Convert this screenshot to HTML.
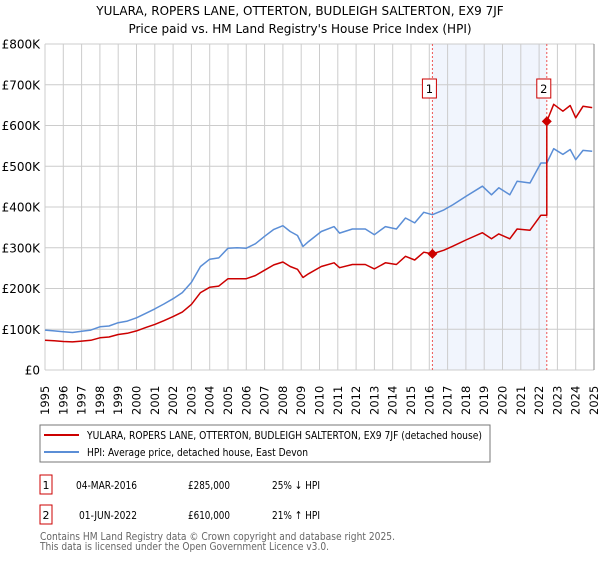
<!DOCTYPE html>
<html><head><meta charset="utf-8"><style>
body{margin:0;background:#fff;font-family:"Liberation Sans","DejaVu Sans",sans-serif;}
svg text{font-family:"DejaVu Sans","Liberation Sans",sans-serif;}
</style></head><body>
<svg width="600" height="560" viewBox="0 0 600 560">
<g id="g"></g>
</svg>
<script>
const hpiDates=[1995.0,1995.5,1996.0,1996.5,1997.0,1997.5,1998.0,1998.5,1999.0,1999.5,2000.0,2000.5,2001.0,2001.5,2002.0,2002.5,2003.0,2003.5,2004.0,2004.5,2005.0,2005.5,2006.0,2006.5,2007.0,2007.5,2008.0,2008.4,2008.8,2009.1,2009.4,2010.1,2010.8,2011.1,2011.8,2012.5,2013.0,2013.6,2014.2,2014.7,2015.2,2015.7,2016.17,2016.8,2017.3,2018.0,2018.9,2019.4,2019.8,2020.4,2020.8,2021.5,2022.1,2022.42,2022.8,2023.3,2023.7,2024.0,2024.4,2024.9];
const hpiValues=[98,96,94,92,95,98,106,108,116,120,128,139,150,162,175,190,215,254,272,275,299,300,299,310,328,345,354,340,330,303,315,340,352,336,346,346,332,352,346,373,361,387,381,393,406,426,451,430,447,430,463,459,508,508,543,529,541,516,539,537];
const redDates=[1995.0,1995.5,1996.0,1996.5,1997.0,1997.5,1998.0,1998.5,1999.0,1999.5,2000.0,2000.5,2001.0,2001.5,2002.0,2002.5,2003.0,2003.5,2004.0,2004.5,2005.0,2005.5,2006.0,2006.5,2007.0,2007.5,2008.0,2008.4,2008.8,2009.1,2009.4,2010.1,2010.8,2011.1,2011.8,2012.5,2013.0,2013.6,2014.2,2014.7,2015.2,2015.7,2016.17,2016.8,2017.3,2018.0,2018.9,2019.4,2019.8,2020.4,2020.8,2021.5,2022.1,2022.42,2022.42,2022.8,2023.3,2023.7,2024.0,2024.4,2024.9];
const redValues=[73,72,70,69,71,73,79,81,87,90,96,104,112,121,131,142,161,190,203,206,224,224,224,232,245,258,265,254,247,227,236,254,263,251,259,259,248,263,259,279,270,289,285,294,304,319,337,322,334,322,346,343,380,380,610,652,635,649,619,647,644];
const saleDates=[2016.17,2022.42];
const saleValues=[285,610];
const saleLabels=["1","2"];
const yTicks=[0,100,200,300,400,500,600,700,800];
const yTickLabels=["£0","£100K","£200K","£300K","£400K","£500K","£600K","£700K","£800K"];
const xYears=[1995,1996,1997,1998,1999,2000,2001,2002,2003,2004,2005,2006,2007,2008,2009,2010,2011,2012,2013,2014,2015,2016,2017,2018,2019,2020,2021,2022,2023,2024,2025];

const X0=45,X1=594,Y0=370,Y1=44;
const xs=d=>X0+(d-1995)/30*(X1-X0);
const ys=v=>Y0-v/800*(Y0-Y1);
const NS="http://www.w3.org/2000/svg";
const g=document.getElementById('g');
function mk(t,a,txt){const e=document.createElementNS(NS,t);for(const k in a)e.setAttribute(k,a[k]);if(txt!==undefined)e.textContent=txt;g.appendChild(e);return e;}

let e=mk('text',{x:300,y:15,'text-anchor':'middle','font-size':12},'YULARA, ROPERS LANE, OTTERTON, BUDLEIGH SALTERTON, EX9 7JF');


e=mk('text',{x:300,y:33,'text-anchor':'middle','font-size':12},"Price paid vs. HM Land Registry's House Price Index (HPI)");



e=mk('rect',{x:xs(saleDates[0]),y:Y1,width:xs(saleDates[1])-xs(saleDates[0]),height:Y0-Y1,fill:'#eef3fc',opacity:0.8});



xYears.forEach(yr=>{
  const l=mk('line',{x1:xs(yr),x2:xs(yr),y1:Y1,y2:Y0,stroke:'#cccccc','stroke-width':1});
  
  
  const t=mk('text',{transform:`translate(${xs(yr)+4},${415}) rotate(-90)`,'font-size':11.5,fill:'#000'},String(yr));
  
  
});
yTicks.forEach((v,i)=>{
  const l=mk('line',{x1:X0,x2:X1,y1:ys(v),y2:ys(v),stroke:'#cccccc','stroke-width':1});
  
  
  const t=mk('text',{x:40,y:ys(v)+4.5,'text-anchor':'end','font-size':12},yTickLabels[i]);
  
  
});
e=mk('line',{x1:X1,x2:X1,y1:Y1,y2:Y0,stroke:'#888','stroke-width':1});



saleDates.forEach((d,i)=>{
  const l=mk('line',{x1:xs(d),x2:xs(d),y1:Y1,y2:Y0,stroke:'#ee5555','stroke-width':1,'stroke-dasharray':'2,2'});
  
  
});

function path(dates,vals,color,name){
  const d=dates.map((t,i)=>(i?'L':'M')+xs(t).toFixed(1)+','+ys(vals[i]).toFixed(1)).join('');
  const p=mk('path',{d:d,fill:'none',stroke:color,'stroke-width':1.5,'stroke-linejoin':'round'});
  
  
}
path(hpiDates,hpiValues,'#5b8ed6','hpi-line');
path(redDates,redValues,'#cc0000','price-paid-line');

saleDates.forEach((d,i)=>{
  const cx=xs(d),cy=ys(saleValues[i]);
  const p=mk('path',{d:`M${cx},${cy-5}L${cx+5},${cy}L${cx},${cy+5}L${cx-5},${cy}Z`,fill:'#cc0000'});
  
  
  const r=mk('rect',{x:cx-10,y:79,width:14,height:19,fill:'#fff',stroke:'#cc0000','stroke-width':1});
  
  
  const t=mk('text',{x:cx-3,y:93,'text-anchor':'middle','font-size':11.5},saleLabels[i]);
  
  
});

const fit={textLength:0,lengthAdjust:'spacingAndGlyphs'};
function tx(a,s,len,name){a.textLength=len;a.lengthAdjust='spacingAndGlyphs';const t=mk('text',a,s);return t;}

e=mk('rect',{x:40,y:425,width:450,height:37,fill:'#fff',stroke:'#777','stroke-width':1});


e=mk('line',{x1:44,x2:79,y1:435,y2:435,stroke:'#cc0000','stroke-width':2});


tx({x:87,y:439,'font-size':11},'YULARA, ROPERS LANE, OTTERTON, BUDLEIGH SALTERTON, EX9 7JF (detached house)',395,'legend-entry-price');
e=mk('line',{x1:44,x2:79,y1:452,y2:452,stroke:'#5b8ed6','stroke-width':2});


tx({x:87,y:456,'font-size':11},'HPI: Average price, detached house, East Devon',221,'legend-entry-hpi');

const rows=[["1","04-MAR-2016","£285,000","25% ↓ HPI",483,76],["2","01-JUN-2022","£610,000","21% ↑ HPI",513,79]];
rows.forEach(r=>{
  const b=mk('rect',{x:40,y:r[4]-8,width:12,height:19,fill:'#fff',stroke:'#cc0000','stroke-width':1});
  
  
  let t=mk('text',{x:46,y:r[4]+6,'text-anchor':'middle','font-size':11},r[0]);
  
  
  tx({x:r[5],y:r[4]+6,'font-size':11},r[1],137-r[5],'table-date');
  tx({x:188,y:r[4]+6,'font-size':11},r[2],42,'table-price');
  tx({x:272,y:r[4]+6,'font-size':11},r[3],48,'table-hpi-diff');
});
tx({x:40,y:540,'font-size':11,fill:'#666'},'Contains HM Land Registry data © Crown copyright and database right 2025.',355,'footer-copyright');
tx({x:40,y:550,'font-size':11,fill:'#666'},'This data is licensed under the Open Government Licence v3.0.',289,'footer-licence');
</script>
</body></html>
